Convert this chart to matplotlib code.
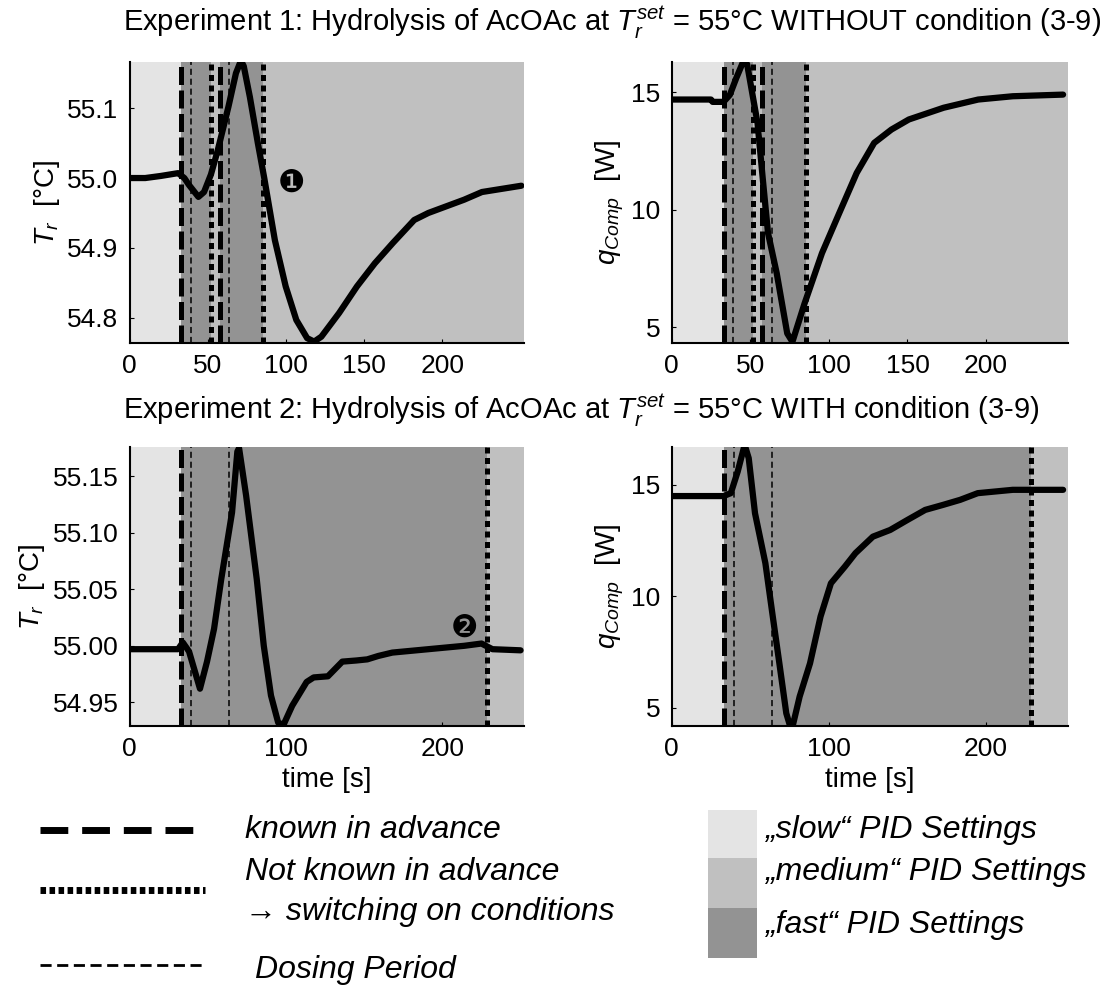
import matplotlib
matplotlib.use("Agg")
import matplotlib.pyplot as plt
from matplotlib.patches import Rectangle
from matplotlib.lines import Line2D

plt.rcParams['font.family'] = ['Liberation Sans', 'DejaVu Sans']
plt.rcParams['mathtext.fontset'] = 'custom'
plt.rcParams['mathtext.it'] = 'Liberation Sans:italic'
plt.rcParams['mathtext.rm'] = 'Liberation Sans'

# Experiment 1 (without condition)
t1_T = [0, 10, 20, 31, 35, 38, 44, 47.6, 52, 56.4, 63.2, 68, 71.2, 73, 76.9, 82, 86.1, 92.9,
        99.8, 106.6, 113.5, 118, 122.6, 134, 145.4, 156.8, 168.3, 182, 191, 213.9, 225.3, 250.5]
T1 = [55.0, 55.0, 55.003, 55.007, 55.0, 54.99, 54.973, 54.98, 55.005, 55.04, 55.102, 55.15, 55.168,
      55.16, 55.116, 55.05, 55.0, 54.911, 54.845, 54.797, 54.771, 54.766, 54.773, 54.807, 54.845,
      54.878, 54.907, 54.94, 54.95, 54.969, 54.98, 54.989]
t1_q = [0, 25, 26, 33, 37, 41, 46, 48, 54.6, 58, 61.3, 66.8, 73.5, 76.8, 84.5, 95.6, 106.6, 117.7,
        128.8, 139.8, 150.9, 173, 195, 217, 249]
q1 = [14.7, 14.7, 14.6, 14.6, 14.9, 15.6, 16.4, 16.2, 13.7, 11.28, 9.0, 7.3, 4.73, 4.37, 6.0, 8.15,
      9.86, 11.57, 12.85, 13.42, 13.85, 14.35, 14.7, 14.84, 14.91]

# Experiment 2 (with condition)
t2_T = [0, 20, 31, 34, 38, 45, 49.5, 54, 58.6, 65.5, 68.9, 70, 74.5, 81.3, 85.8, 90.4, 95, 98.4,
        104, 113.2, 117.7, 126.8, 136, 145, 152, 159, 168, 191, 214, 225, 232, 250]
T2 = [54.997, 54.997, 54.997, 55.003, 54.995, 54.962, 54.986, 55.015, 55.059, 55.118, 55.172, 55.175,
      55.133, 55.059, 55.0, 54.956, 54.932, 54.93, 54.947, 54.968, 54.972, 54.973, 54.986, 54.987,
      54.988, 54.991, 54.994, 54.997, 55.0, 55.002, 54.997, 54.996]
t2_q = [0, 33, 37.6, 42, 46.4, 49, 53, 59.6, 64, 68.5, 72.9, 75.1, 77, 81.4, 88, 94.7, 101.3, 110.2,
        116.9, 128, 139, 150, 161.3, 172.4, 183.5, 194.7, 217, 249]
q2 = [14.5, 14.5, 14.63, 15.6, 16.8, 16.2, 13.73, 11.49, 9.25, 7.0, 4.76, 4.24, 4.2, 5.51, 7.0, 9.1,
      10.59, 11.34, 11.94, 12.68, 12.98, 13.43, 13.88, 14.1, 14.33, 14.63, 14.78, 14.78]

# PID regions (start, end, setting) and switching lines
regions1 = [(0, 33, 'slow'), (33, 52, 'fast'), (52, 57.5, 'medium'), (57.5, 85.5, 'fast'), (85.5, 252, 'medium')]
regions2 = [(0, 33, 'slow'), (33, 228.5, 'fast'), (228.5, 252, 'medium')]
known1 = [33, 57.5]
cond1 = [52, 85.5]
dosing1 = [39, 63.5]
known2 = [33]
cond2 = [228.5]
dosing2 = [39.5, 63.5]

colors = {'slow': '#e4e4e4', 'medium': '#c0c0c0', 'fast': '#939393'}
st_known = dict(color='k', lw=3.6, dashes=(3.6, 1.1))
st_cond = dict(color='k', lw=3.6, dashes=(1.2, 0.9))
st_dose = dict(color='k', lw=1.1, dashes=(4, 2.5))

fig = plt.figure(figsize=(11.07, 9.9), dpi=100)
W, H = 1107, 990


def make_ax(l, r, top, bot):
    return fig.add_axes([l / W, 1 - bot / H, (r - l) / W, (bot - top) / H])


def panel(ax, t, y, regions, known, cond, dosing, ylim, yticks, ylabels, xticks):
    for a, b, kind in regions:
        ax.axvspan(a, b, color=colors[kind], lw=0, zorder=0)
    for x in dosing:
        ax.axvline(x, **st_dose, zorder=1)
    for x in known:
        ax.axvline(x, **st_known, zorder=1)
    for x in cond:
        ax.axvline(x, **st_cond, zorder=1)
    ax.plot(t, y, color='k', lw=4.5, solid_capstyle='round', zorder=2)
    ax.set_xlim(0, 252)
    ax.set_ylim(*ylim)
    ax.set_yticks(yticks)
    ax.set_yticklabels(ylabels)
    ax.set_xticks(xticks)
    ax.spines['top'].set_visible(False)
    ax.spines['right'].set_visible(False)
    ax.spines['left'].set_linewidth(1.5)
    ax.spines['bottom'].set_linewidth(1.5)
    ax.tick_params(direction='in', length=3, labelsize=19, pad=8)


ax1 = make_ax(129.6, 523.7, 62, 343)
panel(ax1, t1_T, T1, regions1, known1, cond1, dosing1, (54.764, 55.166),
      [54.8, 54.9, 55.0, 55.1], ['54.8', '54.9', '55.0', '55.1'], [0, 50, 100, 150, 200])
ax1.set_ylabel(r'$T_r$  [°C]', fontsize=20)
ax1.text(103.5, 54.993, '❶', fontsize=22, ha='center', va='center', family='DejaVu Sans', zorder=3)

ax2 = make_ax(671.7, 1067.8, 62, 343)
panel(ax2, t1_q, q1, regions1, known1, cond1, dosing1, (4.32, 16.3),
      [5, 10, 15], ['5', '10', '15'], [0, 50, 100, 150, 200])
ax2.set_ylabel(r'$q_{Comp}$  [W]', fontsize=20)

ax3 = make_ax(129.6, 523.7, 447, 726)
panel(ax3, t2_T, T2, regions2, known2, cond2, dosing2, (54.929, 55.176),
      [54.95, 55.0, 55.05, 55.1, 55.15], ['54.95', '55.00', '55.05', '55.10', '55.15'], [0, 100, 200])
ax3.set_ylabel(r'$T_r$  [°C]', fontsize=20)
ax3.set_xlabel('time [s]', fontsize=20)
ax3.text(214, 55.016, '❷', fontsize=22, ha='center', va='center', family='DejaVu Sans', zorder=3)

ax4 = make_ax(671.7, 1067.8, 447, 726)
panel(ax4, t2_q, q2, regions2, known2, cond2, dosing2, (4.19, 16.7),
      [5, 10, 15], ['5', '10', '15'], [0, 100, 200])
ax4.set_ylabel(r'$q_{Comp}$  [W]', fontsize=20)
ax4.set_xlabel('time [s]', fontsize=20)

fig.text(123 / W, 1 - 22 / H,
         r'Experiment 1: Hydrolysis of AcOAc at $T_r^{set}$ = 55°C WITHOUT condition (3-9)',
         fontsize=21, ha='left', va='center')
fig.text(123 / W, 1 - 410 / H,
         r'Experiment 2: Hydrolysis of AcOAc at $T_r^{set}$ = 55°C WITH condition (3-9)',
         fontsize=21, ha='left', va='center')

# legend drawn in pixel coordinates
lg = fig.add_axes([0, 0, 1, 1], zorder=-1)
lg.set_xlim(0, W)
lg.set_ylim(H, 0)
lg.axis('off')
lg.add_line(Line2D([40, 205], [830, 830], color='k', lw=5, dashes=(4, 2)))
lg.add_line(Line2D([40, 205], [890, 890], color='k', lw=5, dashes=(0.8, 0.5)))
lg.add_line(Line2D([40, 205], [965, 965], color='k', lw=2, dashes=(4, 2)))
fs = 23
lg.text(245, 830, 'known in advance', style='italic', fontsize=fs, va='center')
lg.text(245, 872, 'Not known in advance', style='italic', fontsize=fs, va='center')
lg.text(245, 912, '→ switching on conditions', style='italic', fontsize=fs, va='center')
lg.text(255, 970, 'Dosing Period', style='italic', fontsize=fs, va='center')
for y0, kind in [(810, 'slow'), (858, 'medium'), (908, 'fast')]:
    lg.add_patch(Rectangle((708, y0), 49, 50, color=colors[kind], lw=0))
lg.text(765, 830, '„slow“ PID Settings', style='italic', fontsize=fs, va='center')
lg.text(765, 872, '„medium“ PID Settings', style='italic', fontsize=fs, va='center')
lg.text(765, 925, '„fast“ PID Settings', style='italic', fontsize=fs, va='center')

fig.savefig('out.png', dpi=100)
